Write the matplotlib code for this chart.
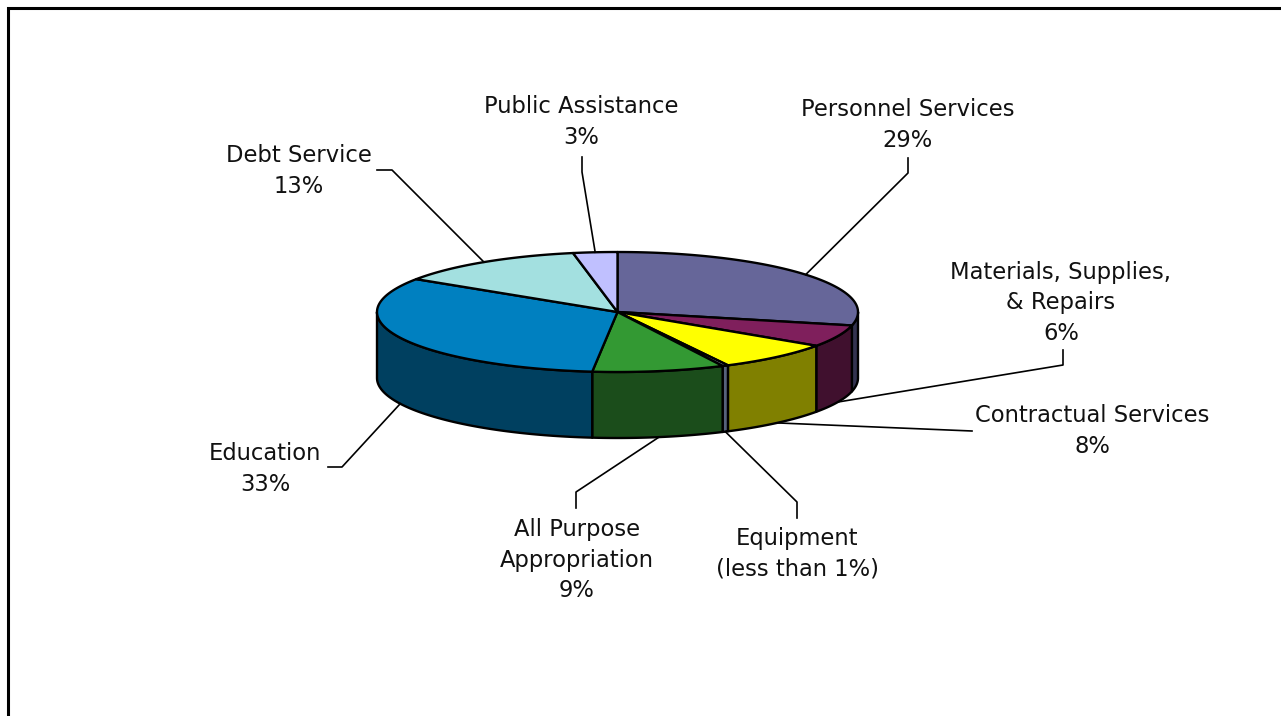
import matplotlib.pyplot as plt
import numpy as np
from matplotlib.patches import Polygon

# Budget shares (percent), clockwise from 12 o'clock
categories = [
    "Personnel Services",
    "Materials, Supplies,\n& Repairs",
    "Contractual Services",
    "Equipment",
    "All Purpose\nAppropriation",
    "Education",
    "Debt Service",
    "Public Assistance",
]
shares = [29, 6, 8, 0.4, 9, 33, 13, 3]
share_labels = ["29%", "6%", "8%", "(less than 1%)", "9%", "33%", "13%", "3%"]

top_colors = ["#666699", "#7f1f5c", "#ffff00", "#9aa8c0",
              "#339933", "#0080c0", "#a3e0e0", "#c0c0ff"]
side_colors = ["#333350", "#40102e", "#808000", "#56627a",
               "#1b4d1b", "#004060", "#52707a", "#60607f"]

# Label layout: text centre, leader end at the label, leader elbow
label_pos = [(908, 125), (1061, 303), (1092, 431), (797, 554),
             (577, 560), (265, 469), (299, 171), (581, 122)]
leader_end = [(908, 158), (1063, 350), (972, 431), (797, 518),
              (576, 508), (328, 467), (377, 170), (582, 157)]
leader_elbow = [(908, 173), (1063, 365), (972, 431), (797, 502),
                (576, 492), (342, 467), (392, 170), (582, 172)]

# Pie geometry in pixel space
cx, cy = 617.5, 312
rx, ry = 240.5, 60
depth = 66


def rim(theta_deg, drop=0.0):
    t = np.radians(theta_deg)
    return cx + rx * np.sin(t), cy - ry * np.cos(t) + drop


fig = plt.figure(figsize=(12.81, 7.16), dpi=100)
ax = fig.add_axes([0, 0, 1, 1])
ax.set_xlim(0, 1281)
ax.set_ylim(716, 0)
ax.axis("off")

# chart area border (open to the right and bottom)
ax.plot([8, 8, 1281], [716, 8, 8], color="black", lw=2.2, solid_joinstyle="miter")

total = sum(shares)
bounds = np.concatenate([[0], np.cumsum(shares)]) / total * 360

# side walls of the front half
for i in range(len(shares)):
    a, b = max(bounds[i], 90), min(bounds[i + 1], 270)
    if b <= a:
        continue
    th = np.linspace(a, b, 80)
    tx, ty = rim(th)
    bx, by = rim(th[::-1], depth)
    pts = np.column_stack([np.concatenate([tx, bx]), np.concatenate([ty, by])])
    ax.add_patch(Polygon(pts, closed=True, facecolor=side_colors[i],
                         edgecolor="black", lw=1.7, joinstyle="round"))

# top faces
for i in range(len(shares)):
    th = np.linspace(bounds[i], bounds[i + 1], 120)
    tx, ty = rim(th)
    pts = np.column_stack([np.concatenate([[cx], tx]), np.concatenate([[cy], ty])])
    ax.add_patch(Polygon(pts, closed=True, facecolor=top_colors[i],
                         edgecolor="black", lw=1.7, joinstyle="round"))

# labels and leader lines
for i, name in enumerate(categories):
    mid = (bounds[i] + bounds[i + 1]) / 2
    front = np.cos(np.radians(mid)) < 0
    anchor = rim(mid, depth if front else 0)
    xs = [anchor[0], leader_elbow[i][0], leader_end[i][0]]
    ys = [anchor[1], leader_elbow[i][1], leader_end[i][1]]
    ax.plot(xs, ys, color="black", lw=1.2)
    ax.text(label_pos[i][0], label_pos[i][1], f"{name}\n{share_labels[i]}",
            ha="center", va="center", fontsize=16.3, family="DejaVu Sans",
            linespacing=1.4, color="#111111")

fig.savefig("out.png", dpi=100, facecolor="white")
